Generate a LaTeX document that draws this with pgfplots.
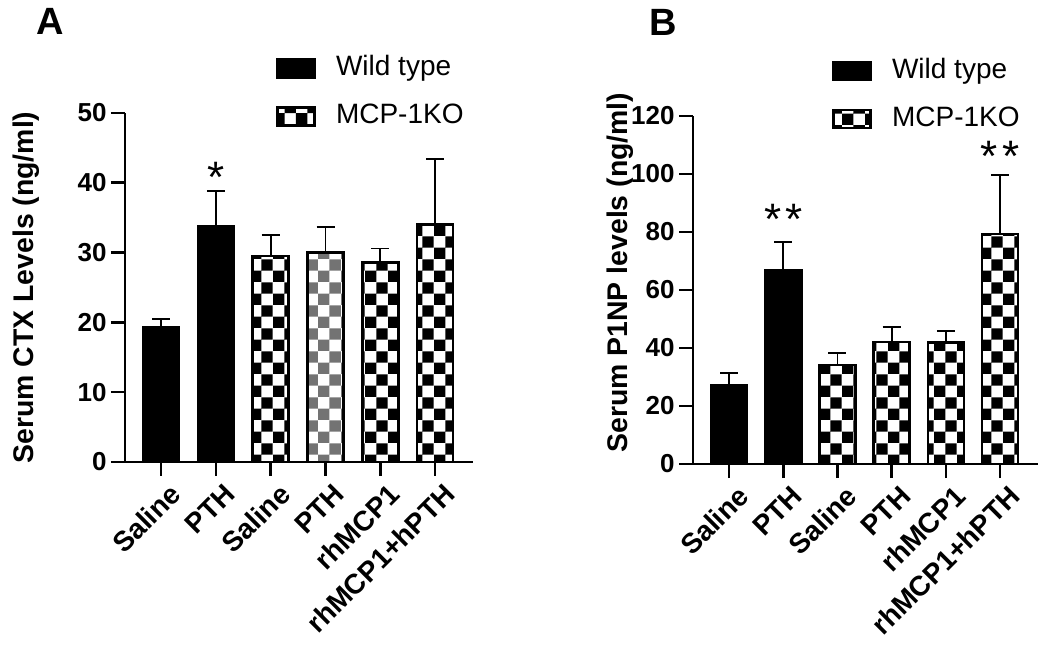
\documentclass[border=0pt]{standalone}
\usepackage{pgfplots}
\pgfplotsset{compat=1.18}
\usepackage{fontspec}
\setmainfont{Liberation Sans}
\usetikzlibrary{patterns}

\tikzset{astnode/.style={font=\fontsize{22}{22}\selectfont, anchor=base, inner sep=0pt}}
\pgfplotsset{
  mybars/.style={
    scale only axis,
    axis x line*=bottom, axis y line*=left,
    axis line style={line width=1.3pt, -},
    every tick/.style={line width=1.3pt, black},
    tick align=outside,
    major tick length=7pt,
    xtick={0,...,5},
    xticklabels={Saline,PTH,Saline,PTH,rhMCP1,rhMCP1+hPTH},
    xticklabel style={rotate=45, anchor=north east, font=\bfseries\fontsize{14}{14}\selectfont, inner sep=1pt, xshift=1.5pt, yshift=-3.5pt},
    yticklabel style={font=\bfseries\fontsize{13}{13}\selectfont, inner xsep=2pt},
    /pgf/number format/assume math mode=true,
    ymin=0,
    clip=false,
    ylabel style={font=\bfseries\fontsize{14.2}{14.2}\selectfont, anchor=base},
    legend style={draw=none, fill=none, font=\fontsize{14}{14}\selectfont, anchor=west, inner sep=0pt,
      row sep=11pt, column sep=0pt, cells={anchor=west},
      nodes={inner sep=0pt, text height=10pt, text depth=3pt}},
    legend image code/.code={\draw[#1, line width=1.3pt] (0pt,-4.5pt) rectangle (18.5pt,4.5pt); \path (28.5pt,0pt);},
  },
  bars/.style={ybar, bar width=18pt, bar shift=0pt, line width=1.3pt, draw=black,
    /pgfplots/error bars/y dir=plus, /pgfplots/error bars/y explicit,
    /pgfplots/error bars/error bar style={line width=0.9pt, black, solid},
    /pgfplots/error bars/error mark options={line width=0.9pt, mark size=4.5pt, black, solid, rotate=90}},
  wt/.style={bars, fill=black},
  ko/.style={bars, pattern=checkerboard, pattern color=black},
  kogray/.style={bars, pattern=checkerboard, pattern color=black!55},
}

\begin{document}
\begin{tikzpicture}
\path[use as bounding box] (0pt,0pt) rectangle (525pt,324pt);

% Panel A
\begin{axis}[mybars,
  at={(62.5pt,93pt)}, anchor=south west,
  width=174pt, height=174.5pt,
  xmin=-0.657, xmax=5.69, ymax=50,
  ytick={0,10,20,30,40,50},
  ylabel={Serum CTX Levels (ng/ml)},
  ylabel style={at={(axis description cs:-0.264,0.5)}},
  legend style={at={(rel axis cs:0.434,1.059)}},
]
\addplot[wt] coordinates {(0,19.3) +- (0,1.2) (1,33.7) +- (0,5.1)};
\addlegendentry{Wild type}
\addplot[ko] coordinates {(2,29.5) +- (0,3.0) (4,28.6) +- (0,2.0) (5,34.0) +- (0,9.4)};
\addlegendentry{MCP-1KO}
\addplot[kogray, forget plot] coordinates {(3,30.0) +- (0,3.7)};
\node[astnode] at (axis cs:1,38.6) {*};
\end{axis}

% Panel B
\begin{axis}[mybars,
  at={(346.5pt,92pt)}, anchor=south west,
  width=172.5pt, height=174pt,
  xmin=-0.664, xmax=5.70, ymax=120,
  ytick={0,20,40,60,80,100,120},
  ylabel={Serum P1NP levels (ng/ml)},
  ylabel style={at={(axis description cs:-0.191,0.55)}},
  legend style={at={(rel axis cs:0.403,1.06)}},
]
\addplot[wt] coordinates {(0,27.2) +- (0,4.2) (1,66.9) +- (0,9.6)};
\addlegendentry{Wild type}
\addplot[ko] coordinates {(2,34.1) +- (0,4.2) (3,42.0) +- (0,5.3) (4,41.8) +- (0,4.1) (5,79.3) +- (0,20.4)};
\addlegendentry{MCP-1KO}
\node[astnode] at (axis cs:1,79.0) {*\hspace{2pt}*};
\node[astnode] at (axis cs:5,101.0) {*\hspace{2pt}*};
\end{axis}

\node[font=\bfseries\fontsize{19}{19}\selectfont, inner sep=0pt] at (25pt,313.25pt) {A};
\node[font=\bfseries\fontsize{19}{19}\selectfont, inner sep=0pt] at (331.75pt,312.75pt) {B};
\end{tikzpicture}
\end{document}
